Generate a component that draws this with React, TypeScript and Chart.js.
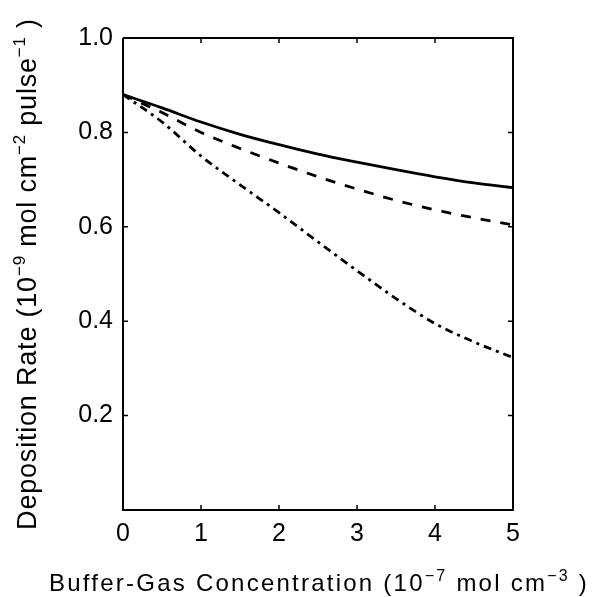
import React, { useEffect, useRef } from "react";
import { Chart, registerables } from "chart.js";

Chart.register(...registerables);

const concentration = [0, 0.5, 1, 1.5, 2, 2.5, 3, 3.5, 4, 4.5, 5];
const solidSeries = [0.88, 0.852, 0.822, 0.796, 0.774, 0.754, 0.737, 0.721, 0.706, 0.693, 0.683];
const dashedSeries = [0.88, 0.842, 0.80, 0.766, 0.735, 0.706, 0.680, 0.656, 0.636, 0.619, 0.604];
const dashDotSeries = [0.88, 0.822, 0.75, 0.689, 0.630, 0.568, 0.507, 0.448, 0.395, 0.356, 0.323];
const xTicks = [0, 1, 2, 3, 4, 5];
const yTicks = [0.2, 0.4, 0.6, 0.8, 1.0];

type Seg = { t: string; sup?: boolean };
const xTitleSegs: Seg[] = [
  { t: "Buffer-Gas Concentration (10" },
  { t: "\u22127", sup: true },
  { t: " mol cm" },
  { t: "\u22123", sup: true },
  { t: " )" },
];
const yTitleSegs: Seg[] = [
  { t: "Deposition Rate (10" },
  { t: "\u22129", sup: true },
  { t: " mol cm" },
  { t: "\u22122", sup: true },
  { t: " pulse" },
  { t: "\u22121", sup: true },
  { t: " )" },
];

const FONT = "'Liberation Sans', Arial, Helvetica, sans-serif";

function drawRich(ctx: any, segs: Seg[], size: number, supSize: number, raise: number, target: number) {
  const fontFor = (s: Seg) => `${s.sup ? supSize : size}px ${FONT}`;
  ctx.letterSpacing = "0px";
  let natural = 0;
  let count = 0;
  for (const s of segs) {
    ctx.font = fontFor(s);
    natural += ctx.measureText(s.t).width;
    count += s.t.length;
  }
  const spacing = Math.max(0, (target - natural) / count);
  ctx.letterSpacing = `${spacing.toFixed(2)}px`;
  let total = 0;
  const widths: number[] = [];
  for (const s of segs) {
    ctx.font = fontFor(s);
    const w = ctx.measureText(s.t).width;
    widths.push(w);
    total += w;
  }
  let x = -total / 2;
  ctx.textAlign = "left";
  ctx.textBaseline = "alphabetic";
  segs.forEach((s, i) => {
    ctx.font = fontFor(s);
    ctx.fillText(s.t, x, s.sup ? -raise : 0);
    x += widths[i];
  });
}

const framePlugin = {
  id: "frameTicks",
  afterDraw(chart: any) {
    const { ctx, chartArea } = chart;
    const { left, right, top, bottom } = chartArea;
    const xs = chart.scales.x;
    const ys = chart.scales.y;
    ctx.save();
    ctx.strokeStyle = "#000";
    ctx.lineWidth = 2;
    ctx.beginPath();
    ctx.moveTo(left, top);
    ctx.lineTo(right, top);
    ctx.lineTo(right, bottom);
    ctx.lineTo(left, bottom);
    ctx.lineTo(left, top);
    ctx.stroke();
    ctx.lineWidth = 1.5;
    const len = 5;
    ctx.beginPath();
    for (const v of xTicks) {
      const px = xs.getPixelForValue(v);
      ctx.moveTo(px, bottom);
      ctx.lineTo(px, bottom - len);
      ctx.moveTo(px, top);
      ctx.lineTo(px, top + len);
    }
    for (const v of yTicks) {
      const py = ys.getPixelForValue(v);
      ctx.moveTo(left, py);
      ctx.lineTo(left + len, py);
      ctx.moveTo(right, py);
      ctx.lineTo(right - len, py);
    }
    ctx.stroke();
    ctx.restore();

    // axis titles
    ctx.save();
    ctx.fillStyle = "#000";
    ctx.translate((left + right) / 2 + 1, 591);
    drawRich(ctx, xTitleSegs, 24, 16, 10, 540);
    ctx.restore();

    ctx.save();
    ctx.fillStyle = "#000";
    ctx.translate(36, (top + bottom) / 2);
    ctx.rotate(-Math.PI / 2);
    drawRich(ctx, yTitleSegs, 27, 17, 11, 512);
    ctx.restore();
  },
};

export default function App() {
  const ref = useRef<HTMLCanvasElement | null>(null);
  useEffect(() => {
    if (!ref.current) return;
    const mk = (d: number[]) => concentration.map((x, i) => ({ x, y: d[i] }));
    const common = { borderColor: "#000", borderWidth: 2.8, pointRadius: 0, cubicInterpolationMode: "monotone" as const, fill: false };
    const chart = new Chart(ref.current, {
      type: "line",
      data: {
        datasets: [
          { data: mk(solidSeries), ...common },
          { data: mk(dashedSeries), ...common, borderDash: [10, 10] },
          { data: mk(dashDotSeries), ...common, borderDash: [8, 5, 3, 5] },
        ],
      },
      plugins: [framePlugin],
      options: {
        animation: false,
        responsive: false,
        maintainAspectRatio: false,
        layout: { padding: { left: 0, top: 38, right: 84, bottom: 0 } },
        plugins: { legend: { display: false }, tooltip: { enabled: false } },
        scales: {
          x: {
            type: "linear",
            min: 0,
            max: 5,
            afterFit(scale: any) { scale.height = 87; },
            afterBuildTicks(scale: any) { scale.ticks = xTicks.map((v) => ({ value: v })); },
            grid: { display: false, drawTicks: false },
            border: { display: false },
            ticks: { color: "#000", font: { family: FONT, size: 25 }, padding: 9, callback: (v: any) => String(v) },
            title: { display: false },
          },
          y: {
            type: "linear",
            min: 0,
            max: 1,
            afterFit(scale: any) { scale.width = 123; },
            afterBuildTicks(scale: any) { scale.ticks = yTicks.map((v) => ({ value: v })); },
            grid: { display: false, drawTicks: false },
            border: { display: false },
            ticks: { color: "#000", font: { family: FONT, size: 25 }, padding: 10, callback: (v: any) => Number(v).toFixed(1) },
            title: { display: false },
          },
        },
      },
    });
    return () => chart.destroy();
  }, []);
  return (
    <div style={{ position: "fixed", left: 0, top: 0, width: 597, height: 597, background: "#fff" }}>
      <canvas ref={ref} width={597} height={597} style={{ width: 597, height: 597 }} />
    </div>
  );
}
